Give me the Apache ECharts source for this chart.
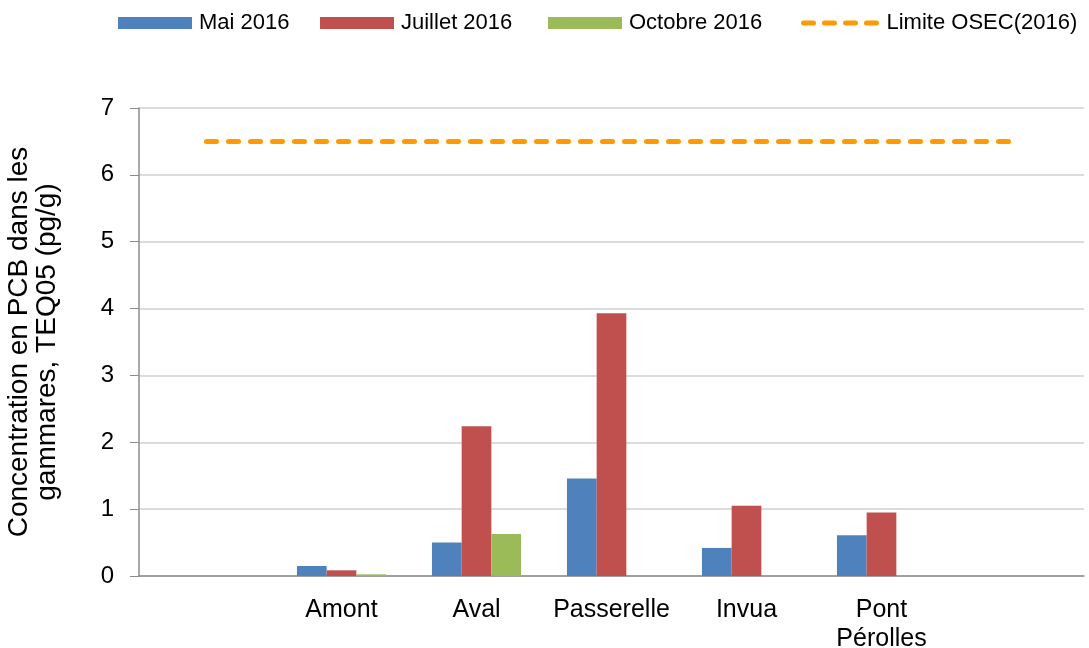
<!DOCTYPE html>
<html>
<head>
<meta charset="utf-8">
<title>PCB gammares</title>
<script src="https://cdn.jsdelivr.net/npm/echarts@6/dist/echarts.min.js"></script>
<style>
    html, body { margin: 0; padding: 0; background: #fff; }
    #chart { width: 1089px; height: 648px; }
</style>
</head>
<body>
<div id="chart"></div>
<script>
// categories (blank slots at both ends, like the original sheet)
var sites = ["", "Amont", "Aval", "Passerelle", "Invua", "Pont\nPérolles", ""];
var mai2016 = [null, 0.15, 0.50, 1.46, 0.42, 0.61, null];
var juillet2016 = [null, 0.085, 2.24, 3.93, 1.05, 0.95, null];
var octobre2016 = [null, 0.025, 0.63, null, null, null, null];
var limiteOsec = [6.5, 6.5, 6.5, 6.5, 6.5, 6.5, 6.5];
var yTicks = [0, 1, 2, 3, 4, 5, 6, 7];
var seriesNames = ["Mai 2016", "Juillet 2016", "Octobre 2016", "Limite OSEC(2016)"];

(function(window, echarts) {
    var font = "'Liberation Sans', Arial, sans-serif";
    var orange = "#ff9a00";
    var el = document.getElementById("chart");
    var chart = echarts.init(el, null, { renderer: "canvas" });

    function bar(name, data, color) {
        return {
            name: name,
            type: "bar",
            data: data,
            barGap: "0%",
            barCategoryGap: "34%",
            itemStyle: { color: color },
            animation: false
        };
    }

    // one legend per entry so each sits where the original puts it
    var legendLeft = [118, 320, 548, 801];
    var legends = seriesNames.map(function(name, i) {
        var item = { name: name, icon: "rect" };
        if (i === 3) {
            item = {
                name: name,
                itemStyle: { opacity: 0 },
                lineStyle: { color: orange, width: 5, type: [10, 11], cap: "round", opacity: 1 }
            };
        }
        return {
            top: 12,
            left: legendLeft[i],
            padding: 0,
            itemWidth: i === 3 ? 76 : 74,
            itemHeight: 12,
            textStyle: { fontFamily: font, fontSize: 22, color: "#000", padding: [0, 0, 0, 2] },
            data: [item]
        };
    });

    var option = {
        backgroundColor: "#fff",
        textStyle: { fontFamily: font, color: "#000" },
        legend: legends,
        grid: {
            left: 139,
            right: 5,
            top: 108,
            bottom: 72,
            outerBoundsMode: "none"
        },
        xAxis: {
            type: "category",
            data: sites,
            axisLine: { lineStyle: { color: "#8c8c8c", width: 1.5 } },
            axisTick: { show: false },
            axisLabel: {
                interval: 0,
                margin: 20,
                fontFamily: font,
                fontSize: 25,
                lineHeight: 29,
                color: "#000"
            }
        },
        yAxis: {
            type: "value",
            min: yTicks[0],
            max: yTicks[yTicks.length - 1],
            interval: 1,
            name: "Concentration en PCB dans les\ngammares, TEQ05 (pg/g)",
            nameLocation: "middle",
            nameGap: 78,
            nameTextStyle: {
                fontFamily: font,
                fontSize: 28,
                lineHeight: 28,
                color: "#000"
            },
            axisLine: { show: true, lineStyle: { color: "#8c8c8c", width: 1.5 } },
            axisTick: { show: true, length: 9, lineStyle: { color: "#8c8c8c" } },
            splitLine: { lineStyle: { color: "#d0d0d0", width: 1.5 } },
            axisLabel: {
                margin: 25,
                fontFamily: font,
                fontSize: 24,
                color: "#000"
            }
        },
        series: [
            bar(seriesNames[0], mai2016, "#4f81bd"),
            bar(seriesNames[1], juillet2016, "#c0504d"),
            bar(seriesNames[2], octobre2016, "#9bbb59"),
            {
                name: seriesNames[3],
                type: "line",
                data: limiteOsec,
                symbol: "none",
                color: orange,
                lineStyle: {
                    color: orange,
                    width: 5,
                    type: [10, 12],
                    cap: "round"
                },
                animation: false
            }
        ]
    };
    chart.setOption(option);
    window.chart = chart;
})(window, echarts);
</script>
</body>
</html>
